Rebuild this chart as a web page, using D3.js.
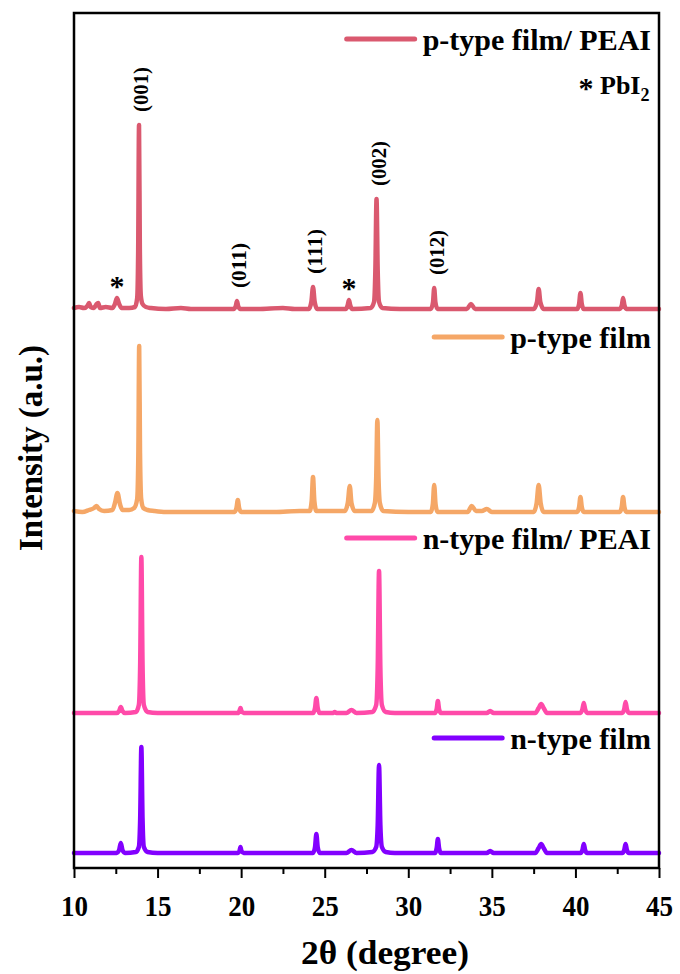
<!DOCTYPE html>
<html>
<head>
<meta charset="utf-8">
<script src="https://cdn.jsdelivr.net/npm/d3@7"></script>
<style>
  body { margin: 0; background: #fff; }
  text { font-family: "Liberation Serif", "Times New Roman", serif; font-weight: bold; fill: #000; }
</style>
</head>
<body>
<svg id="chart" width="680" height="974"></svg>
<script>
"use strict";

// x axis ticks (2 theta, degree)
const majorTicks = [10, 15, 20, 25, 30, 35, 40, 45];
const minorTicks = [12.5, 17.5, 22.5, 27.5, 32.5, 37.5, 42.5];

// series, top to bottom
const seriesNames = ["p-type film/ PEAI", "p-type film", "n-type film/ PEAI", "n-type film"];
const seriesColors = ["#da596f", "#f5a767", "#ff4aa9", "#8200ff"];
const seriesOffsets = [558, 355, 155, 15];

// [2theta, intensity]
const pPeaiPoints = [[10,2],[10.3,3],[10.6,2],[10.8,4],[10.9,7],[11.0,3],[11.2,2],[11.35,6],[11.45,7],[11.55,2],[11.9,3],[12.3,2],[12.45,6],[12.57,12],[12.7,6],[12.85,2],[13.3,2],[13.65,3],[13.78,12],[13.84,60],[13.89,185],[13.94,60],[14.0,14],[14.1,6],[14.3,3],[14.6,2],[15.5,1],[16.4,2],[17,1],[18.5,1],[19.55,1],[19.68,4],[19.75,9],[19.82,4],[19.95,1],[21,1],[22.5,2],[23.2,1],[24.05,1],[24.2,8],[24.3,23],[24.4,8],[24.55,1],[25.4,1],[26.25,1],[26.38,5],[26.45,10],[26.52,5],[26.65,1],[27.75,2],[27.95,8],[28.03,40],[28.1,111],[28.17,40],[28.25,8],[28.45,2],[29.5,1],[31.35,1],[31.48,8],[31.55,22],[31.62,8],[31.75,1],[33.5,1],[33.75,6],[34.0,1],[35.5,1],[37.5,1],[37.7,8],[37.8,21],[37.9,8],[38.1,1],[40.1,1],[40.22,6],[40.3,17],[40.38,6],[40.5,1],[42.65,1],[42.78,5],[42.85,12],[42.93,5],[43.05,1],[44,1],[45,1]];
const pFilmPoints = [[10,2],[10.5,1],[10.9,3],[11.2,5],[11.35,7],[11.5,4],[11.8,2],[12.3,3],[12.45,10],[12.6,20],[12.75,9],[12.9,3],[13.3,3],[13.6,5],[13.78,14],[13.85,60],[13.9,167],[13.95,60],[14.02,14],[14.15,5],[14.4,3],[14.8,2],[15.5,1],[17.5,1],[19.6,1],[19.72,5],[19.8,13],[19.88,5],[20,1],[22,1],[23.5,2],[24.1,2],[24.22,12],[24.3,36],[24.38,12],[24.5,2],[26.2,2],[26.38,10],[26.5,27],[26.6,10],[26.8,2],[27.8,2],[28.0,10],[28.08,35],[28.15,93],[28.22,35],[28.3,10],[28.5,2],[30,1],[31.35,1],[31.47,9],[31.55,28],[31.63,9],[31.75,1],[33.55,1],[33.8,7],[34.05,2],[34.4,2],[34.7,4],[35.0,1],[37.5,1],[37.68,10],[37.8,28],[37.92,10],[38.1,1],[40.1,1],[40.22,6],[40.3,16],[40.38,6],[40.5,1],[42.65,1],[42.77,6],[42.85,16],[42.93,6],[43.05,1],[45,1]];
const nPeaiPoints = [[10,0],[12.55,0],[12.7,2],[12.8,6],[12.9,2],[13.05,0],[13.7,1],[13.88,8],[13.96,50],[14.03,156],[14.1,50],[14.18,8],[14.4,1],[15,0],[19.8,0],[19.9,2],[19.96,5],[20.02,2],[20.15,0],[24.3,0],[24.42,5],[24.5,15],[24.58,5],[24.7,0],[25.5,0],[25.6,1],[25.7,0],[26.3,0],[26.6,3],[26.9,0],[27.85,1],[28.08,8],[28.17,45],[28.25,142],[28.33,45],[28.42,8],[28.65,1],[29.2,0],[31.6,0],[31.7,4],[31.77,12],[31.84,4],[31.95,0],[34.7,0],[34.9,2],[35.1,0],[37.6,0],[37.8,5],[37.95,9],[38.1,5],[38.3,0],[40.3,0],[40.42,4],[40.5,10],[40.58,4],[40.7,0],[42.8,0],[42.92,4],[43.0,11],[43.08,4],[43.2,0],[45,0]];
const nFilmPoints = [[10,0],[12.55,0],[12.7,3],[12.8,10],[12.9,3],[13.05,0],[13.7,1],[13.88,6],[13.96,35],[14.03,106],[14.1,35],[14.18,6],[14.4,1],[15,0],[19.8,0],[19.9,2],[19.96,6],[20.02,2],[20.15,0],[24.3,0],[24.42,6],[24.5,19],[24.58,6],[24.7,0],[26.3,0],[26.6,3],[26.9,0],[27.85,1],[28.08,6],[28.17,28],[28.25,88],[28.33,28],[28.42,6],[28.65,1],[29.2,0],[31.6,0],[31.7,5],[31.77,14],[31.84,5],[31.95,0],[34.7,0],[34.9,2],[35.1,0],[37.6,0],[37.8,5],[37.95,9],[38.1,5],[38.3,0],[40.3,0],[40.42,3],[40.5,9],[40.58,3],[40.7,0],[42.8,0],[42.92,3],[43.0,9],[43.08,3],[43.2,0],[45,0]];
const seriesPoints = [pPeaiPoints, pFilmPoints, nPeaiPoints, nFilmPoints];

// peak annotations on the top trace
const hklLabels = ["(001)", "(011)", "(111)", "(002)", "(012)"];
const hklPeaks = [13.89, 19.75, 24.3, 28.1, 31.55];
const hklHeights = [185, 9, 23, 111, 22];
const pbi2Peaks = [12.57, 26.45];
const pbi2Heights = [12, 10];

const width = 680, height = 974;
const margin = {top: 13, right: 21, bottom: 106, left: 74};
const legendLineY = [39, 337, 538, 738];

const svg = d3.select("#chart");

const x = d3.scaleLinear()
    .domain([10, 45])
    .range([margin.left, width - margin.right]);

const y = d3.scaleLinear()
    .domain([0, height - margin.top - margin.bottom])
    .range([height - margin.bottom, margin.top]);

const line = d3.line()
    .x(function(d) { return x(d[0]); })
    .curve(d3.curveMonotoneX);

// traces
seriesPoints.forEach(function(pts, i) {
    svg.append("path")
        .datum(pts)
        .attr("d", line.y(function(d) { return y(d[1] + seriesOffsets[i]); }))
        .style("fill", "none")
        .style("stroke", seriesColors[i])
        .style("stroke-width", 4.5)
        .style("stroke-linejoin", "round")
        .style("stroke-linecap", "round");
});

// frame
svg.append("rect")
    .attr("x", margin.left)
    .attr("y", margin.top)
    .attr("width", width - margin.left - margin.right)
    .attr("height", height - margin.top - margin.bottom)
    .style("fill", "none")
    .style("stroke", "#000")
    .style("stroke-width", 2.5);

// x axis
const xAxis = svg.append("g")
    .attr("transform", "translate(0," + (height - margin.bottom) + ")")
    .call(d3.axisBottom(x).tickValues(majorTicks).tickSize(10).tickFormat(d3.format("d")));
xAxis.select(".domain").remove();
xAxis.selectAll(".tick line").style("stroke", "#000").style("stroke-width", 2);
xAxis.selectAll(".tick text")
    .attr("y", 48)
    .attr("dy", null)
    .attr("textLength", 27)
    .attr("lengthAdjust", "spacingAndGlyphs")
    .style("font-size", "30px")
    .style("font-weight", "bold")
    .style("fill", "#000");

svg.append("g")
    .attr("transform", "translate(0," + (height - margin.bottom) + ")")
    .call(d3.axisBottom(x).tickValues(minorTicks).tickSize(6).tickFormat(""))
    .call(function(g) { g.select(".domain").remove(); })
    .selectAll(".tick line").style("stroke", "#000").style("stroke-width", 2);

// axis titles
svg.append("text")
    .attr("x", 385)
    .attr("y", 964)
    .attr("text-anchor", "middle")
    .attr("textLength", 168)
    .attr("lengthAdjust", "spacingAndGlyphs")
    .style("font-size", "34px")
    .text("2θ (degree)");

svg.append("text")
    .attr("transform", "translate(42,448) rotate(-90)")
    .attr("text-anchor", "middle")
    .attr("textLength", 206)
    .attr("lengthAdjust", "spacingAndGlyphs")
    .style("font-size", "34px")
    .text("Intensity (a.u.)");

// hkl labels
hklLabels.forEach(function(lab, i) {
    svg.append("text")
        .attr("transform", "translate(" + (x(hklPeaks[i]) + 1.5) + "," + (y(hklHeights[i] + seriesOffsets[0]) - 13) + ") rotate(-90)")
        .attr("dy", "0.36em")
        .attr("textLength", 45)
        .attr("lengthAdjust", "spacingAndGlyphs")
        .style("font-size", "22px")
        .text(lab);
});

// PbI2 stars
pbi2Peaks.forEach(function(p, i) {
    svg.append("text")
        .attr("x", x(p))
        .attr("y", y(pbi2Heights[i] + seriesOffsets[0]) - 2)
        .attr("text-anchor", "middle")
        .style("font-size", "30px")
        .text("*");
});

// legends
seriesNames.forEach(function(name, i) {
    const t = svg.append("text")
        .attr("x", 651)
        .attr("y", legendLineY[i] + 11)
        .attr("text-anchor", "end")
        .style("font-size", "30px")
        .text(name);
    const x2 = 651 - t.node().getComputedTextLength() - 8;
    svg.append("line")
        .attr("x1", x2 - 68)
        .attr("x2", x2)
        .attr("y1", legendLineY[i])
        .attr("y2", legendLineY[i])
        .style("stroke", seriesColors[i])
        .style("stroke-width", 5)
        .style("stroke-linecap", "round");
});

// PbI2 key
svg.append("text")
    .attr("x", 586)
    .attr("y", 98)
    .attr("text-anchor", "middle")
    .style("font-size", "30px")
    .text("*");
const pb = svg.append("text")
    .attr("x", 600)
    .attr("y", 94)
    .style("font-size", "26px")
    .text("PbI");
pb.append("tspan")
    .attr("dy", 7)
    .style("font-size", "18px")
    .text("2");
</script>
</body>
</html>
